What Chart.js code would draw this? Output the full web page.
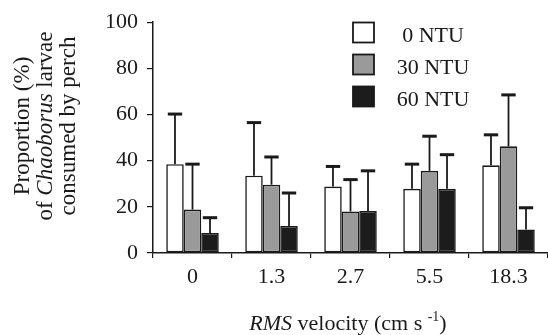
<!DOCTYPE html>
<html>
<head>
<meta charset="utf-8">
<script src="https://cdn.jsdelivr.net/npm/chart.js@4"></script>
<style>
  html, body { margin: 0; padding: 0; background: #fff; }
  #chart { display: block; }
</style>
</head>
<body>
<canvas id="chart" width="548" height="335"></canvas>
<script>
const velocities = ['0', '1.3', '2.7', '5.5', '18.3'];
const seriesLabels = ['0 NTU', '30 NTU', '60 NTU'];

const ntu0 = [38.5, 33.5, 28.8, 27.8, 38.0];
const ntu30 = [18.8, 29.6, 18.0, 35.6, 46.2];
const ntu60 = [8.7, 11.7, 18.2, 27.8, 10.2];

// upper error (SD) for each bar
const ntu0Err = [21.7, 23.0, 8.7, 10.7, 13.2];
const ntu30Err = [19.7, 12.0, 13.8, 15.0, 22.3];
const ntu60Err = [6.6, 14.3, 17.4, 14.8, 9.4];

const yTicks = [0, 20, 40, 60, 80, 100];

const fillColors = ['#ffffff', '#9a9a9a', '#1c1c1c'];
const textColor = '#1a1a1a';
const serif = "'Liberation Serif', 'Times New Roman', Times, serif";

const errorBars = {
    id: 'errorBars',
    afterDatasetsDraw(chart) {
        const ctx = chart.ctx;
        const yScale = chart.scales.y;
        ctx.save();
        ctx.strokeStyle = textColor;
        chart.data.datasets.forEach((ds, di) => {
            const meta = chart.getDatasetMeta(di);
            meta.data.forEach((bar, i) => {
                const top = yScale.getPixelForValue(ds.data[i] + ds.errors[i]);
                const capHalf = bar.width * 0.41;
                ctx.lineWidth = 1.8;
                ctx.beginPath();
                ctx.moveTo(bar.x, bar.y);
                ctx.lineTo(bar.x, top);
                ctx.stroke();
                ctx.lineWidth = 3;
                ctx.beginPath();
                ctx.moveTo(bar.x - capHalf, top);
                ctx.lineTo(bar.x + capHalf, top);
                ctx.stroke();
            });
        });
        ctx.restore();
    }
};

const legendBox = {
    id: 'legendBox',
    afterDraw(chart) {
        const ctx = chart.ctx;
        ctx.save();
        chart.data.datasets.forEach((ds, i) => {
            const top = 22.5 + i * 32;
            ctx.fillStyle = ds.backgroundColor;
            ctx.fillRect(353, top, 21, 20);
            ctx.lineWidth = 1.8;
            ctx.strokeStyle = textColor;
            ctx.strokeRect(353, top, 21, 20);
            ctx.fillStyle = textColor;
            ctx.font = '22px ' + serif;
            ctx.textAlign = 'center';
            ctx.textBaseline = 'alphabetic';
            ctx.fillText(ds.label, 433, top + 19.5);
        });
        ctx.restore();
    }
};

const axisTitles = {
    id: 'axisTitles',
    afterDraw(chart) {
        const ctx = chart.ctx;
        ctx.save();
        ctx.fillStyle = textColor;
        ctx.textBaseline = 'alphabetic';
        const normal = '23px ' + serif;
        const italic = 'italic 23px ' + serif;

        // y title, three rotated lines
        const lines = [
            [['Proportion (%)', normal]],
            [['of ', normal], ['Chaoborus', italic], [' larvae', normal]],
            [['consumed by perch', normal]]
        ];
        const baselines = [28.5, 51.5, 74.5];
        lines.forEach((parts, li) => {
            let total = 0;
            parts.forEach(p => { ctx.font = p[1]; total += ctx.measureText(p[0]).width; });
            ctx.save();
            ctx.translate(baselines[li], 126);
            ctx.rotate(-Math.PI / 2);
            let x = -total / 2;
            ctx.textAlign = 'left';
            parts.forEach(p => {
                ctx.font = p[1];
                ctx.fillText(p[0], x, 0);
                x += ctx.measureText(p[0]).width;
            });
            ctx.restore();
        });

        // x title
        const xParts = [
            ['RMS', 'italic 22px ' + serif, 0],
            [' velocity (cm s ', '22px ' + serif, 0],
            ['-1', '14px ' + serif, -9],
            [')', '22px ' + serif, 0]
        ];
        let w = 0;
        xParts.forEach(p => { ctx.font = p[1]; w += ctx.measureText(p[0]).width; });
        let x = 348 - w / 2;
        ctx.textAlign = 'left';
        xParts.forEach(p => {
            ctx.font = p[1];
            ctx.fillText(p[0], x, 330 + p[2]);
            x += ctx.measureText(p[0]).width;
        });
        ctx.restore();
    }
};

const makeSet = (label, data, errors, color) => ({
    label: label,
    data: data,
    errors: errors,
    backgroundColor: color,
    borderColor: textColor,
    borderWidth: 1.6,
    borderSkipped: false,
    categoryPercentage: 0.665,
    barPercentage: 1.0
});

new Chart(document.getElementById('chart'), {
    type: 'bar',
    data: {
        labels: velocities,
        datasets: [
            makeSet(seriesLabels[0], ntu0, ntu0Err, fillColors[0]),
            makeSet(seriesLabels[1], ntu30, ntu30Err, fillColors[1]),
            makeSet(seriesLabels[2], ntu60, ntu60Err, fillColors[2])
        ]
    },
    options: {
        responsive: false,
        animation: false,
        devicePixelRatio: 1,
        layout: { padding: { top: 20, right: 0, bottom: 0, left: 0 } },
        plugins: {
            legend: { display: false },
            tooltip: { enabled: false }
        },
        scales: {
            x: {
                grid: {
                    display: true,
                    drawOnChartArea: false,
                    drawTicks: true,
                    tickLength: 5,
                    color: textColor,
                    lineWidth: 1.2
                },
                border: { display: true, color: textColor, width: 1.5 },
                ticks: {
                    color: textColor,
                    font: { family: serif, size: 22 },
                    padding: 6
                },
                afterFit(scale) { scale.height = 82; }
            },
            y: {
                min: 0,
                max: 100,
                afterBuildTicks(scale) { scale.ticks = yTicks.map(v => ({ value: v })); },
                grid: {
                    display: true,
                    drawOnChartArea: false,
                    drawTicks: true,
                    tickLength: 6,
                    color: textColor,
                    lineWidth: 1.2
                },
                border: { display: true, color: textColor, width: 1.5 },
                ticks: {
                    color: textColor,
                    font: { family: serif, size: 22 },
                    padding: 9
                },
                afterFit(scale) { scale.width = 153; }
            }
        }
    },
    plugins: [errorBars, legendBox, axisTitles]
});
</script>
</body>
</html>
